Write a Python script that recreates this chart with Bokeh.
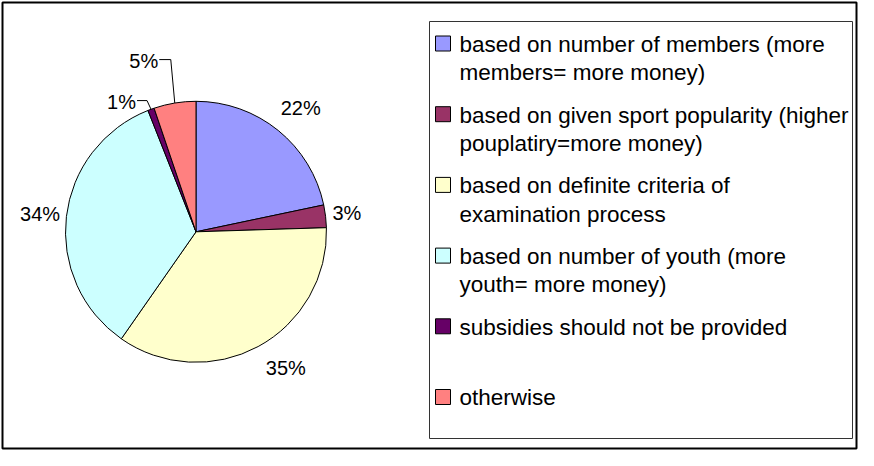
import math
from bokeh.plotting import figure
from bokeh.models import Range1d
from bokeh.embed import file_html
from bokeh.resources import INLINE
from bokeh.core.properties import value

# ---------------- data ----------------
values = [21.7, 2.8, 35.2, 34.3, 0.8, 5.2]
pct_labels = ["22%", "3%", "35%", "34%", "1%", "5%"]
legend_line1 = [
    "based on number of members (more",
    "based on given sport popularity (higher",
    "based on definite criteria of",
    "based on number of youth (more",
    "subsidies should not be provided",
    "otherwise",
]
legend_line2 = [
    "members= more money)",
    "pouplatiry=more money)",
    "examination process",
    "youth= more money)",
    "",
    "",
]
colors = ["#9999FF", "#993366", "#FFFFCC", "#CCFFFF", "#660066", "#FF8080"]

# ---------------- layout (figure pixel coords, y down) ----------------
W, H = 858, 450
def Y(y):
    return H - y

CX, CY, R = 195.5, 231.3, 130.5
label_dist = [162, 152, 163, 157, 150, 179]
label_shift = [-1.2, 0.1, 5.0, 0.0, 9.6, 7.6]
leader = [False, False, False, False, True, True]
FONT = "Liberation Sans"

p = figure(width=W, height=H, output_backend="svg", toolbar_location=None,
           x_range=Range1d(0, W), y_range=Range1d(0, H),
           x_axis_type=None, y_axis_type=None, min_border=0,
           background_fill_color="white", border_fill_color="white")
p.grid.visible = False
p.outline_line_color = None

# pie wedges
total = float(sum(values))
cum = 0.0
starts, ends, mids = [], [], []
for v in values:
    a0 = 90.0 - cum / total * 360.0
    cum += v
    a1 = 90.0 - cum / total * 360.0
    starts.append(math.radians(a0))
    ends.append(math.radians(a1))
    mids.append((a0 + a1) / 2.0)

p.wedge(x=[CX] * len(values), y=[Y(CY)] * len(values), radius=R,
        start_angle=starts, end_angle=ends, direction="clock",
        fill_color=colors, line_color="black", line_width=1)

# percent labels
lx, ly = [], []
for i, m in enumerate(mids):
    a = math.radians(m + label_shift[i])
    lx.append(CX + label_dist[i] * math.cos(a))
    ly.append(Y(CY) + label_dist[i] * math.sin(a))

# leader lines for the small slices
for i in range(len(values)):
    if not leader[i]:
        continue
    m = math.radians(mids[i])
    ex = CX + R * math.cos(m)
    ey = Y(CY) + R * math.sin(m)
    half_w = 15.5
    p.line([lx[i] + half_w, ex - 4, ex], [ly[i] + 1, ly[i] + 1, ey],
           line_color="black", line_width=1)

p.text(x=lx, y=ly, text=pct_labels, text_align="center", text_baseline="middle",
       text_font=value(FONT), text_font_size="20px", text_color="black")

# legend
LEG_L, LEG_R, LEG_T, LEG_B = 429, 852, 21, 438
LEG_FONT = "22.5px"
item_y = [43 + 70.7 * i for i in range(len(values))]
p.quad(left=[435] * len(values), right=[450] * len(values),
       top=[Y(y - 7.5) for y in item_y], bottom=[Y(y + 7.5) for y in item_y],
       fill_color=colors, line_color="black", line_width=1)
p.text(x=[459] * len(values), y=[Y(y + 0.8) for y in item_y], text=legend_line1,
       text_align="left", text_baseline="middle",
       text_font=value(FONT), text_font_size=LEG_FONT, text_color="black")
p.text(x=[459] * len(values), y=[Y(y + 29.3) for y in item_y], text=legend_line2,
       text_align="left", text_baseline="middle",
       text_font=value(FONT), text_font_size=LEG_FONT, text_color="black")

p.quad(left=[LEG_L], right=[LEG_R], top=[Y(LEG_T)], bottom=[Y(LEG_B)],
       fill_color=None, line_color="#333333", line_width=1)

# outer border
p.quad(left=[2], right=[W - 2], top=[Y(2)], bottom=[Y(H - 2)],
       fill_color=None, line_color="black", line_width=2)

open("out.html", "w").write(file_html(p, INLINE))
